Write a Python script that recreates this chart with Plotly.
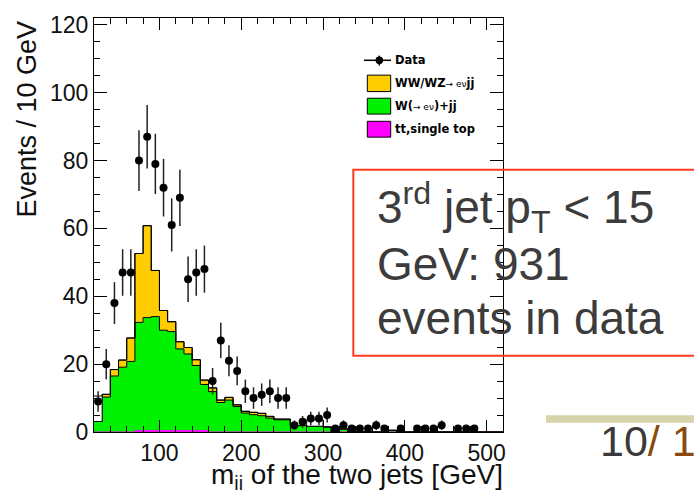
import numpy as np
import plotly.graph_objects as go

# ---- histogram binning: 10 GeV bins from 20 to 520 GeV ----
bin_low = 20
bin_high = 520
bin_width = 10

# observed events per bin (bin centres 25, 35, ..., 515)
data_counts = [9, 20, 38, 47, 47, 80, 87, 79, 72, 61,
               69, 45, 47, 48, 15, 27, 21, 18, 12, 10,
               11, 12, 10, 10, 2, 3, 4, 4, 5, 1,
               2, 1, 1, 1, 2, 1, 0, 1, 0, 1,
               1, 1, 2, 0, 1, 1, 1, 0, 0, 0]

# tt, single top expectation
ttbar = [0, 0, 0, 0, 0, 0.4, 0.4, 0.4, 0.4, 0.4,
         0.4, 0.4, 0.4, 0.4, 0, 0, 0, 0, 0, 0,
         0, 0, 0, 0, 0, 0, 0, 0, 0, 0,
         0, 0, 0, 0, 0, 0, 0, 0, 0, 0,
         0, 0, 0, 0, 0, 0, 0, 0, 0, 0]

# W(-> e nu) + jj expectation
w_jj = [3.1, 10.3, 16.5, 19.1, 20.8, 31.9, 33.3, 33.6, 29.6, 29.2,
        24.1, 22.6, 19.2, 13.6, 11.9, 8.7, 9.4, 7.5, 5.6, 5.1,
        4.8, 4.1, 3.6, 3.6, 1.9, 1.9, 1.7, 1.7, 1.5, 0,
        0.9, 0, 0, 0, 0, 0, 0.5, 0, 0, 0,
        0, 0, 0, 0, 0, 0, 0, 0, 0, 0]

# WW/WZ -> e nu jj expectation
ww_wz = [0, 0.8, 1.9, 2.1, 6.9, 20.3, 27.1, 13.6, 5.8, 2.9,
         2.1, 1.9, 1.7, 1.3, 1.1, 0.7, 0.8, 0.5, 0.5, 0.7,
         0.7, 0.5, 0.2, 0.2, 0, 0, 0, 0, 0, 0,
         0, 0, 0, 0, 0, 0, 0, 0, 0, 0,
         0, 0, 0, 0, 0, 0, 0, 0, 0, 0]

# remaining (unfilled) background component
other_bkg = [7.5, 0, 0, 0, 0, 0, 0, 0, 0, 0,
             0, 0, 0, 0, 0, 0, 0, 0, 0, 0,
             0, 0, 0, 0, 0, 0, 1.9, 1.9, 0, 0,
             0, 0, 0, 0, 0, 0, 0, 0, 0, 0,
             0, 0, 0, 0, 0, 0, 0, 0, 0, 0]

x_tick_values = [100, 200, 300, 400, 500]
y_tick_values = [0, 20, 40, 60, 80, 100, 120]

legend_labels = [
    "<b>Data</b>",
    "<b>WW/WZ</b><span style='font-size:9px'>\u2192 e\u03bd</span><b>jj</b>",
    "<b>W(</b><span style='font-size:9px'>\u2192 e\u03bd</span><b>)+jj</b>",
    "<b>tt,single top</b>",
]

COL_WWWZ = "#ffcc00"
COL_WJJ = "#00f200"
COL_TT = "#ff00ff"

edges = np.arange(bin_low, bin_high + bin_width, bin_width)
centres = edges[:-1] + bin_width / 2

counts = np.array(data_counts, dtype=float)
layer_tt = np.array(ttbar)
layer_w = layer_tt + np.array(w_jj)
layer_ww = layer_w + np.array(ww_wz)
layer_all = layer_ww + np.array(other_bkg)


def step(v):
    return np.append(v, v[-1])


fig = go.Figure()

fig.add_trace(go.Scatter(x=edges, y=step(layer_tt), mode="lines",
                         line=dict(shape="hv", color=COL_TT, width=1),
                         fill="tozeroy", fillcolor=COL_TT, hoverinfo="skip"))
fig.add_trace(go.Scatter(x=edges, y=step(layer_w), mode="lines",
                         line=dict(shape="hv", color="black", width=1),
                         fill="tonexty", fillcolor=COL_WJJ, hoverinfo="skip"))
fig.add_trace(go.Scatter(x=edges, y=step(layer_ww), mode="lines",
                         line=dict(shape="hv", color="black", width=1),
                         fill="tonexty", fillcolor=COL_WWWZ, hoverinfo="skip"))
fig.add_trace(go.Scatter(x=edges, y=step(layer_all), mode="lines",
                         line=dict(shape="hv", color="black", width=1),
                         fill="tonexty", fillcolor="white", hoverinfo="skip"))

mask = counts > 0
fig.add_trace(go.Scatter(
    x=centres[mask], y=counts[mask], mode="markers",
    marker=dict(color="black", size=8),
    error_y=dict(type="data", array=np.sqrt(counts[mask]), color="#222222",
                 thickness=1.5, width=0),
))

# plot frame in pixels: left 94, right 503, top 14, bottom 432
L, R, T, B = 94, 503, 14, 432
W, H = 694, 490


def px(x):
    return (x - L) / (R - L)


def py(y):
    return (B - y) / (B - T)


axis_common = dict(ticks="inside", tickcolor="black", tickwidth=1,
                   showline=True, linecolor="black", linewidth=1,
                   mirror="ticks", showgrid=False, zeroline=False,
                   tickfont=dict(size=23, color="#111111"))

fig.update_xaxes(range=[bin_low, bin_high], tickvals=x_tick_values, ticklen=12,
                 minor=dict(tick0=0, dtick=20, ticklen=6, ticks="inside",
                            tickcolor="black", showgrid=False),
                 **axis_common)
fig.update_yaxes(range=[0, 122], tickvals=y_tick_values, ticklen=13,
                 minor=dict(tick0=0, dtick=5, ticklen=6, ticks="inside",
                            tickcolor="black", showgrid=False),
                 **axis_common)

shapes = []
annotations = []

# axis titles
annotations.append(dict(text="Events / 10 GeV", textangle=-90, x=px(27), y=py(15),
                        xref="paper", yref="paper", xanchor="center", yanchor="top",
                        showarrow=False, font=dict(size=27, color="#111111")))
annotations.append(dict(text="m<sub>jj</sub> of the two jets [GeV]", x=px(505), y=py(477),
                        xref="paper", yref="paper", xanchor="right", yanchor="middle",
                        showarrow=False, font=dict(size=28, color="#111111")))

# legend
shapes.append(dict(type="line", xref="paper", yref="paper", x0=px(364), x1=px(391),
                   y0=py(56.7), y1=py(56.7), line=dict(color="black", width=1.5)))
shapes.append(dict(type="line", xref="paper", yref="paper", x0=px(379.3), x1=px(379.3),
                   y0=py(52), y1=py(62), line=dict(color="black", width=1.5)))
shapes.append(dict(type="circle", xref="paper", yref="paper", x0=px(375.8), x1=px(382.8),
                   y0=py(53.2), y1=py(60.2), fillcolor="black", line=dict(color="black", width=1)))
for (y0, y1), col in zip([(71.7, 88.3), (95, 111), (118.3, 134.3)], [COL_WWWZ, COL_WJJ, COL_TT]):
    shapes.append(dict(type="rect", xref="paper", yref="paper", x0=px(367.3), x1=px(390.7),
                       y0=py(y0), y1=py(y1), fillcolor=col, line=dict(color="black", width=1)))
for label, yc in zip(legend_labels, [56.7, 80, 103, 126]):
    annotations.append(dict(text=label, x=px(393), y=py(yc), xref="paper", yref="paper",
                            xanchor="left", yanchor="middle", showarrow=False,
                            font=dict(size=11.5, color="black",
                                      family="DejaVu Sans, Arial, sans-serif")))

# callout box
shapes.append(dict(type="rect", xref="paper", yref="paper", x0=px(353.3), x1=px(720),
                   y0=py(167.3), y1=py(355), line=dict(color="#ff3b1f", width=2),
                   fillcolor="rgba(0,0,0,0)"))
box_lines = ["3<sup>rd</sup> jet p<sub>T</sub> &lt; 15", "GeV: 931", "events in data"]
for txt, yc in zip(box_lines, [205.7, 262.3, 316.7]):
    annotations.append(dict(text=txt, x=px(375), y=py(yc), xref="paper", yref="paper",
                            xanchor="left", yanchor="middle", showarrow=False,
                            font=dict(size=46, color="#3c3c3c")))

# page number with rule above it
shapes.append(dict(type="rect", xref="paper", yref="paper", x0=px(546), x1=px(700),
                   y0=py(415), y1=py(422.7), fillcolor="#d6d3aa", line=dict(width=0)))
annotations.append(dict(text="10<span style='color:#8a4a0c'>/ 1</span>",
                        x=px(598), y=py(441), xref="paper", yref="paper",
                        xanchor="left", yanchor="middle", showarrow=False,
                        font=dict(size=43, color="#3a3a3a")))

fig.update_layout(
    width=W, height=H,
    margin=dict(l=L, r=W - R, t=T, b=H - B),
    plot_bgcolor="white", paper_bgcolor="white",
    showlegend=False,
    font=dict(family="Liberation Sans, Arial, sans-serif", color="black"),
    shapes=shapes, annotations=annotations,
)

fig.write_html("out.html")
